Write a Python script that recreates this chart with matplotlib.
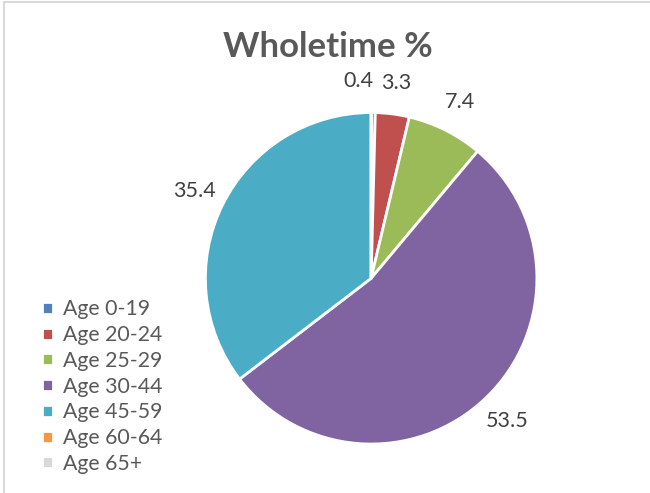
import matplotlib.pyplot as plt
from matplotlib.patches import Rectangle

plt.rcParams['font.family'] = ['Lato', 'DejaVu Sans']

ages = ['Age 0-19', 'Age 20-24', 'Age 25-29', 'Age 30-44', 'Age 45-59', 'Age 60-64', 'Age 65+']
values = [0.4, 3.3, 7.4, 53.5, 35.4, 0, 0]
colors = ['#4F81BD', '#C0504D', '#9BBB59', '#8064A2', '#4BACC6', '#F79646', '#D9D9D9']

fig = plt.figure(figsize=(6.5, 4.93), dpi=100)

# light chart border like excel
fig.add_artist(Rectangle((0.006, -0.01), 1.2, 1.006, transform=fig.transFigure,
                         fill=False, edgecolor='#D9D9D9', linewidth=1.5))

ax = fig.add_axes([0.317, 0.101, 0.508, 0.669])
labels = [str(v) if v > 0 else '' for v in values]
wedges, texts = ax.pie(values, labels=labels, colors=colors, startangle=90, counterclock=False,
                       labeldistance=1.19,
                       wedgeprops=dict(edgecolor='white', linewidth=2),
                       textprops=dict(color='#404040', fontsize=15.5))
for t in texts:
    t.set_ha('center')
    t.set_va('center')
# tiny first slice: push its label left so it sits next to 3.3
texts[0].set_ha('right')
ax.set_xlim(-0.995, 0.995)
ax.set_ylim(-0.995, 0.995)
ax.set_aspect('equal')

fig.text(0.505, 0.905, 'Wholetime %', ha='center', va='center', fontsize=25,
         fontweight='bold', color='#595959')

fig.legend(wedges, ages, loc='lower left', bbox_to_anchor=(0.035, 0.0), frameon=False,
           handlelength=0.5, handleheight=0.5, handletextpad=0.5, labelspacing=0.27,
           fontsize=15.3, labelcolor='#595959')

fig.savefig('out.png', dpi=100)
